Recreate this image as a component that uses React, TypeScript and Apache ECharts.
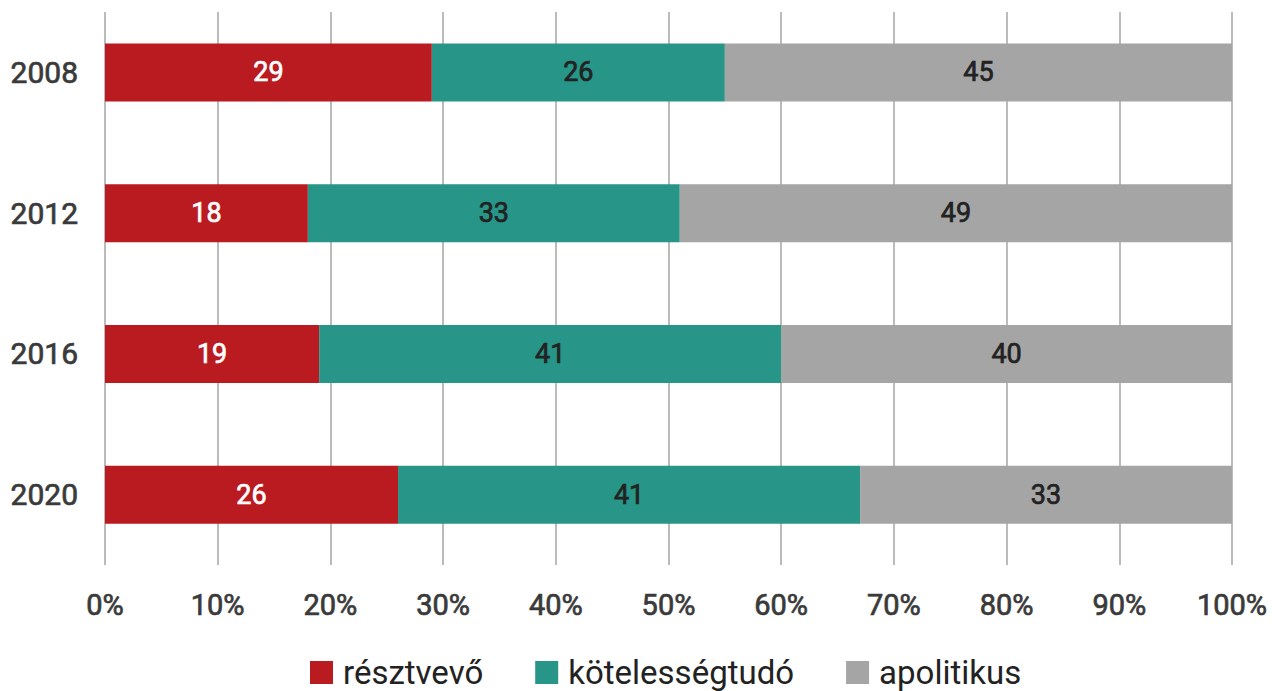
import React, { useEffect, useRef } from "react";
import * as echarts from "echarts";

const years = ["2008", "2012", "2016", "2020"];
const resztvevo = [29, 18, 19, 26];
const kotelessegtudo = [26, 33, 41, 41];
const apolitikus = [45, 49, 40, 33];
const seriesNames = ["résztvevő", "kötelességtudó", "apolitikus"];
const colors = ["#BA1B21", "#279587", "#A5A5A5"];

export default function App() {
  const ref = useRef<HTMLDivElement>(null);
  useEffect(() => {
    if (!ref.current) return;
    const chart = echarts.init(ref.current, undefined, { renderer: "svg" });
    const font = "Roboto";
    const axisColor = "#3a3a3a";
    const mk = (name: string, data: number[], color: string, labelColor: string) => ({
      name,
      type: "bar",
      stack: "total",
      data,
      barWidth: 58,
      itemStyle: { color },
      label: {
        show: true,
        position: "inside",
        color: labelColor,
        textBorderColor: labelColor,
        textBorderWidth: 0.7,
        fontSize: 27,
        fontFamily: font,
      },
    });
    chart.setOption({
      animation: false,
      textStyle: { fontFamily: font },
      grid: { left: 105, right: 47, top: 2, bottom: 126, containLabel: false },
      legend: {
        bottom: -3,
        left: 305,
        icon: "rect",
        itemWidth: 23,
        itemHeight: 23,
        itemGap: 52,
        data: seriesNames,
        textStyle: {
          fontSize: 33,
          lineHeight: 30,
          color: "#222",
          fontFamily: font,
          padding: [0, 0, 0, 5],
        },
      },
      xAxis: {
        type: "value",
        min: 0,
        max: 100,
        interval: 10,
        axisLine: { show: false },
        axisTick: { show: false },
        splitLine: { show: true, lineStyle: { color: "#BBBBBB", width: 2 } },
        axisLabel: {
          formatter: "{value}%",
          fontSize: 29,
          color: axisColor,
          textBorderColor: axisColor,
          textBorderWidth: 0.7,
          margin: 25,
          fontFamily: font,
        },
      },
      yAxis: {
        type: "category",
        inverse: true,
        data: years,
        axisLine: { show: false },
        axisTick: { show: false },
        axisLabel: {
          fontSize: 30,
          color: axisColor,
          textBorderColor: axisColor,
          textBorderWidth: 0.7,
          margin: 27,
          fontFamily: font,
        },
      },
      graphic: [
        {
          type: "rect",
          z: 100,
          shape: { x: 90, y: 0, width: 1189, height: 12 },
          style: { fill: "#fff" },
        },
      ],
      series: [
        mk(seriesNames[0], resztvevo, colors[0], "#fff"),
        mk(seriesNames[1], kotelessegtudo, colors[1], "#222"),
        mk(seriesNames[2], apolitikus, colors[2], "#222"),
      ],
    });
    return () => chart.dispose();
  }, []);
  return (
    <div
      ref={ref}
      style={{ position: "absolute", left: 0, top: 0, width: 1279, height: 691 }}
    />
  );
}
